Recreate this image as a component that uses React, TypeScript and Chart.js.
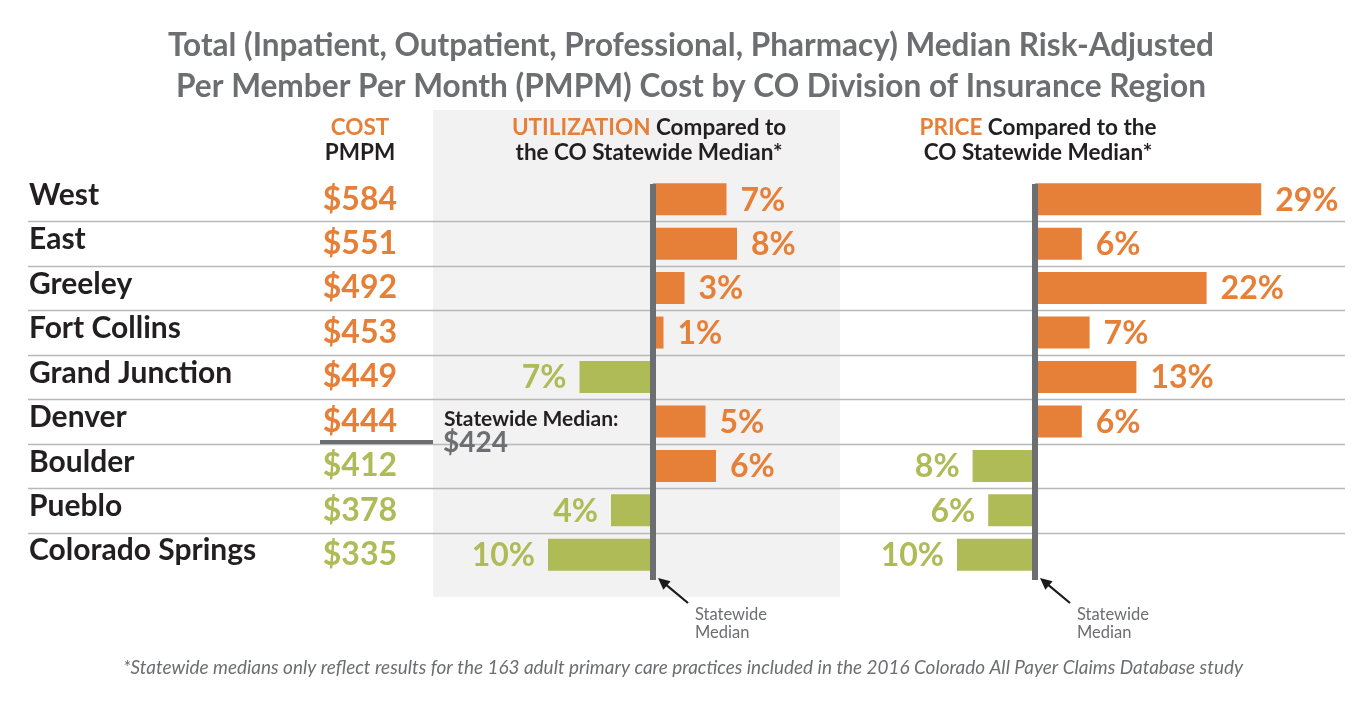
import React, { useEffect, useRef } from 'react';
import { Chart, registerables } from 'chart.js';

Chart.register(...registerables);

// ---------------- data ----------------
const regions = ['West', 'East', 'Greeley', 'Fort Collins', 'Grand Junction', 'Denver', 'Boulder', 'Pueblo', 'Colorado Springs'];
const costPMPM = [584, 551, 492, 453, 449, 444, 412, 378, 335];
const utilizationPct = [7, 8, 3, 1, -7, 5, 6, -4, -10];
const pricePct = [29, 6, 22, 7, 13, 6, -8, -6, -10];
const statewideMedianCost = 424;

const titleLines = [
  'Total (Inpatient, Outpatient, Professional, Pharmacy) Median Risk-Adjusted',
  'Per Member Per Month (PMPM) Cost by CO Division of Insurance Region',
];
const footnote =
  '*Statewide medians only reflect results for the 163 adult primary care practices included in the 2016 Colorado All Payer Claims Database study';

// ---------------- style ----------------
const W = 1368;
const H = 708;
const ORANGE = '#e67f37';
const GREEN = '#afbb57';
const DARK = '#6d6e71';
const INK = '#231f20';
const PANEL = '#f2f2f2';
const RULE = '#b8b8b8';
const FONT = 'Lato, "Open Sans", sans-serif';

const AREA = { left: 28, right: 1345, top: 177, bottom: 577 };
const U_ZERO = 653;
const P_ZERO = 1035;
const U_PX = 10.5; // px per percent
const P_PX = 7.8;

function drawSpans(ctx: CanvasRenderingContext2D, spans: { t: string; c: string }[], cx: number, y: number) {
  const total = spans.reduce((s, sp) => s + ctx.measureText(sp.t).width, 0);
  let x = cx - total / 2;
  ctx.textAlign = 'left';
  for (const sp of spans) {
    ctx.fillStyle = sp.c;
    ctx.fillText(sp.t, x, y);
    x += ctx.measureText(sp.t).width;
  }
}

const infographic = {
  id: 'infographic',
  beforeDraw(chart: any) {
    const { ctx, chartArea, scales } = chart;
    ctx.save();
    ctx.fillStyle = '#ffffff';
    ctx.fillRect(0, 0, chart.width, chart.height);
    ctx.fillStyle = PANEL;
    ctx.fillRect(433, 110, 407, 487);
    const y = scales.y;
    ctx.strokeStyle = RULE;
    ctx.lineWidth = 1.4;
    for (let i = 0; i < regions.length - 1; i++) {
      const yy = Math.round((y.getPixelForValue(i) + y.getPixelForValue(i + 1)) / 2) + 0.5;
      ctx.beginPath();
      ctx.moveTo(chartArea.left, yy);
      ctx.lineTo(chartArea.right, yy);
      ctx.stroke();
    }
    ctx.restore();
  },
  afterDatasetsDraw(chart: any) {
    const { ctx, chartArea, scales } = chart;
    const y = scales.y;
    ctx.save();

    // zero (statewide median) lines
    const zeroXs = [scales.xU.getPixelForValue(0), scales.xP.getPixelForValue(0)];
    ctx.fillStyle = DARK;
    for (const zx of zeroXs) {
      ctx.fillRect(zx - 3, chartArea.top + 7, 6, chartArea.bottom - chartArea.top - 4);
    }

    // percent labels
    ctx.font = `bold 32px ${FONT}`;
    ctx.textBaseline = 'middle';
    [utilizationPct, pricePct].forEach((vals, d) => {
      const meta = chart.getDatasetMeta(d);
      vals.forEach((v, i) => {
        const el = meta.data[i];
        ctx.fillStyle = v >= 0 ? ORANGE : GREEN;
        if (v >= 0) {
          ctx.textAlign = 'left';
          ctx.fillText(`${Math.abs(v)}%`, el.x + 14, el.y + 1);
        } else {
          ctx.textAlign = 'right';
          ctx.fillText(`${Math.abs(v)}%`, el.x - 13, el.y + 1);
        }
      });
    });

    // region names & costs
    regions.forEach((r, i) => {
      const cy = y.getPixelForValue(i);
      ctx.font = `bold 30px ${FONT}`;
      ctx.fillStyle = INK;
      ctx.textAlign = 'left';
      ctx.fillText(r, 29, cy - 4);
      ctx.font = `bold 32px ${FONT}`;
      ctx.fillStyle = costPMPM[i] >= statewideMedianCost ? ORANGE : GREEN;
      ctx.textAlign = 'right';
      ctx.fillText(`$${costPMPM[i]}`, 397, cy);
    });

    // title
    ctx.fillStyle = DARK;
    ctx.textAlign = 'center';
    ctx.font = `bold 32px ${FONT}`;
    ctx.fillText(titleLines[0], 691, 46, 1046);
    ctx.fillText(titleLines[1], 691, 87, 1030);

    // column headers
    ctx.font = `bold 22.5px ${FONT}`;
    drawSpans(ctx, [{ t: 'COST', c: ORANGE }], 360, 128);
    drawSpans(ctx, [{ t: 'PMPM', c: INK }], 360, 153);
    drawSpans(ctx, [{ t: 'UTILIZATION', c: ORANGE }, { t: ' Compared to', c: INK }], 649, 128);
    drawSpans(ctx, [{ t: 'the CO Statewide Median*', c: INK }], 649, 153);
    drawSpans(ctx, [{ t: 'PRICE', c: ORANGE }, { t: ' Compared to the', c: INK }], 1038, 128);
    drawSpans(ctx, [{ t: 'CO Statewide Median*', c: INK }], 1038, 153);

    // statewide median cost marker
    ctx.fillStyle = DARK;
    ctx.fillRect(320, 440, 113, 4);
    ctx.textAlign = 'left';
    ctx.fillStyle = INK;
    ctx.font = `bold 21px ${FONT}`;
    ctx.fillText('Statewide Median:', 444, 419);
    ctx.fillStyle = DARK;
    ctx.font = `bold 28px ${FONT}`;
    ctx.fillText(`$${statewideMedianCost}`, 443, 443);

    // arrows to median lines
    for (const zx of zeroXs) {
      const tipX = zx + 5;
      const tipY = 578;
      const tailX = zx + 35;
      const tailY = 603;
      const ang = Math.atan2(tipY - tailY, tipX - tailX);
      ctx.strokeStyle = '#1a1a1a';
      ctx.fillStyle = '#1a1a1a';
      ctx.lineWidth = 2.2;
      ctx.beginPath();
      ctx.moveTo(tailX, tailY);
      ctx.lineTo(tipX + 6 * Math.cos(ang + Math.PI), tipY + 6 * Math.sin(ang + Math.PI));
      ctx.stroke();
      const hl = 13;
      const hw = 0.45;
      ctx.beginPath();
      ctx.moveTo(tipX, tipY);
      ctx.lineTo(tipX - hl * Math.cos(ang - hw), tipY - hl * Math.sin(ang - hw));
      ctx.lineTo(tipX - hl * Math.cos(ang + hw), tipY - hl * Math.sin(ang + hw));
      ctx.closePath();
      ctx.fill();
      ctx.fillStyle = DARK;
      ctx.font = `16.5px ${FONT}`;
      ctx.textAlign = 'left';
      ctx.fillText('Statewide', zx + 42, 615);
      ctx.fillText('Median', zx + 42, 633);
    }

    // footnote
    ctx.fillStyle = DARK;
    ctx.textAlign = 'center';
    ctx.font = `italic 19.5px ${FONT}`;
    ctx.fillText(footnote, 683, 668, 1120);

    ctx.restore();
  },
};

export default function App() {
  const ref = useRef<HTMLCanvasElement | null>(null);
  useEffect(() => {
    if (!ref.current) return;
    const barColor = (c: any) => ((c.raw as number) >= 0 ? ORANGE : GREEN);
    const chart = new Chart(ref.current, {
      type: 'bar',
      data: {
        labels: regions,
        datasets: [
          { label: 'Utilization', data: utilizationPct, xAxisID: 'xU', backgroundColor: barColor, borderWidth: 0 },
          { label: 'Price', data: pricePct, xAxisID: 'xP', backgroundColor: barColor, borderWidth: 0 },
        ],
      },
      options: {
        indexAxis: 'y',
        responsive: false,
        animation: false,
        events: [],
        layout: {
          padding: { left: AREA.left, right: W - AREA.right, top: AREA.top, bottom: H - AREA.bottom },
        },
        datasets: { bar: { grouped: false, barPercentage: 0.72, categoryPercentage: 1 } },
        plugins: { legend: { display: false }, tooltip: { enabled: false }, title: { display: false } },
        scales: {
          y: { type: 'category', display: false, offset: true },
          xU: {
            type: 'linear',
            axis: 'x',
            display: false,
            min: -(U_ZERO - AREA.left) / U_PX,
            max: (AREA.right - U_ZERO) / U_PX,
          },
          xP: {
            type: 'linear',
            axis: 'x',
            display: false,
            min: -(P_ZERO - AREA.left) / P_PX,
            max: (AREA.right - P_ZERO) / P_PX,
          },
        },
      } as any,
      plugins: [infographic as any],
    });
    return () => chart.destroy();
  }, []);
  return (
    <div style={{ position: 'fixed', left: 0, top: 0, width: W, height: H, background: '#fff' }}>
      <canvas ref={ref} width={W} height={H} style={{ width: W, height: H, display: 'block' }} />
    </div>
  );
}
